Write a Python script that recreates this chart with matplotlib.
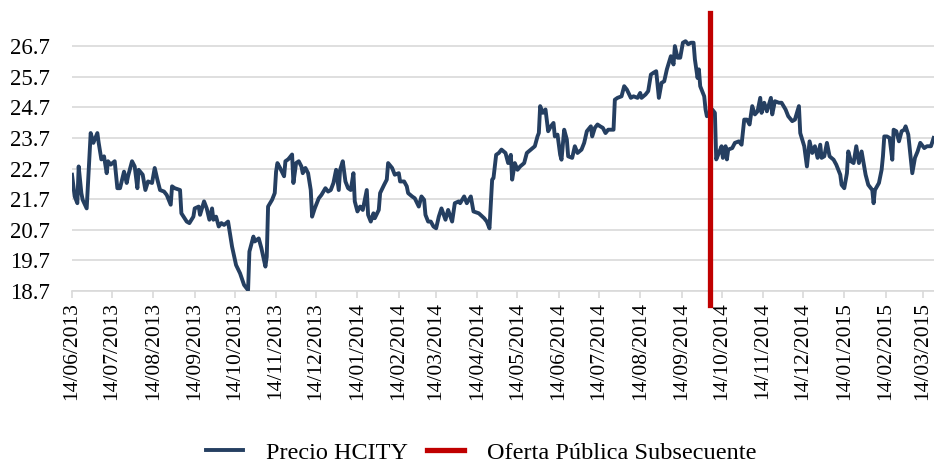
import matplotlib
matplotlib.use("Agg")
import matplotlib.pyplot as plt
import matplotlib.dates as mdates
import pandas as pd

# ---- data ----
start_date = "2013-06-14"
day_offsets = [0, 2, 4, 5, 7, 8, 11, 14, 16, 19, 20, 22, 24, 26, 27, 29, 32, 34, 36, 39,
               41, 42, 45, 47, 49, 50, 53, 55, 57, 60, 62, 64, 66, 69, 71, 74, 75, 77, 81, 82,
               86, 88, 91, 92, 95, 96, 99, 101, 103, 105, 106, 108, 110, 112, 114, 117, 120, 123, 126, 129,
               132, 133, 136, 137, 140, 142, 145, 146, 147, 150, 152, 153, 154, 156, 159, 160, 162, 163, 165, 166,
               168, 170, 172, 173, 175, 177, 179, 180, 182, 185, 187, 190, 192, 194, 196, 198, 200, 201, 203, 205,
               207, 209, 211, 212, 214, 216, 218, 221, 222, 224, 226, 227, 230, 231, 234, 236, 237, 240, 242, 245,
               246, 249, 251, 252, 255, 257, 260, 262, 264, 265, 267, 269, 271, 273, 275, 277, 280, 282, 285, 287,
               290, 291, 294, 296, 299, 301, 305, 309, 311, 313, 315, 316, 318, 320, 322, 325, 327, 329, 330, 332,
               334, 336, 339, 341, 344, 347, 349, 350, 351, 353, 355, 357, 359, 361, 362, 364, 366, 367, 369, 371,
               372, 375, 377, 379, 382, 384, 386, 389, 390, 392, 394, 396, 398, 400, 402, 406, 407, 409, 412, 414,
               416, 419, 421, 424, 426, 427, 430, 432, 434, 436, 438, 440, 442, 444, 446, 449, 451, 452, 454, 456,
               458, 460, 462, 464, 466, 467, 469, 470, 471, 474, 475, 476, 478, 480, 482, 483, 485, 487, 488, 490,
               491, 492, 495, 497, 500, 502, 504, 506, 508, 510, 512, 514, 516, 517, 519, 521, 524, 525, 527, 530,
               532, 535, 537, 540, 542, 545, 546, 549, 551, 553, 555, 557, 559, 561, 562, 564, 566, 568, 571, 573,
               576, 577, 579, 581, 582, 584, 586, 588, 590, 592, 595, 597, 600, 601, 602, 605, 607, 608, 609, 611,
               613, 615, 616, 618, 620, 622, 624, 625, 627, 630, 632, 634, 636, 639, 641, 644, 646]
precio_hcity = [22.50, 21.79, 21.57, 22.77, 21.90, 21.68, 21.40, 23.86, 23.54, 23.86, 23.54, 23.00, 23.10, 22.55, 22.94, 22.83, 22.94, 22.06, 22.06, 22.60,
                22.23, 22.45, 22.94, 22.77, 22.06, 22.66, 22.50, 22.00, 22.28, 22.23, 22.72, 22.34, 22.00, 21.95, 21.84, 21.52, 22.12, 22.06, 22.00, 21.24,
                20.97, 20.92, 21.13, 21.40, 21.46, 21.19, 21.63, 21.40, 21.03, 21.40, 21.03, 21.13, 20.81, 20.92, 20.86, 20.97, 20.15, 19.55, 19.28, 18.90,
                18.73, 19.99, 20.48, 20.32, 20.42, 20.10, 19.50, 19.82, 21.46, 21.68, 21.90, 22.60, 22.88, 22.72, 22.45, 22.94, 23.00, 23.05, 23.16, 22.23,
                22.88, 22.94, 22.77, 22.55, 22.72, 22.55, 22.00, 21.13, 21.40, 21.73, 21.84, 22.06, 21.95, 22.00, 22.23, 22.66, 22.00, 22.66, 22.94, 22.28,
                22.06, 22.00, 22.55, 21.63, 21.30, 21.46, 21.35, 22.00, 21.19, 20.97, 21.24, 21.08, 21.35, 21.90, 22.17, 22.34, 22.88, 22.72, 22.50, 22.55,
                22.28, 22.28, 22.12, 21.90, 21.79, 21.73, 21.46, 21.79, 21.68, 21.19, 20.97, 20.97, 20.81, 20.75, 21.13, 21.40, 21.03, 21.35, 20.97, 21.57,
                21.63, 21.57, 21.79, 21.57, 21.79, 21.30, 21.24, 21.08, 20.97, 20.75, 22.34, 22.39, 23.15, 23.21, 23.32, 23.21, 22.88, 23.15, 22.34, 22.88,
                22.66, 22.77, 22.88, 23.21, 23.32, 23.43, 23.75, 23.86, 24.74, 24.52, 24.63, 23.92, 24.08, 24.19, 23.75, 23.81, 23.15, 22.99, 23.97, 23.65,
                23.10, 23.05, 23.43, 23.21, 23.32, 23.54, 23.92, 24.08, 23.75, 24.03, 24.14, 24.08, 24.03, 23.86, 23.97, 23.97, 24.95, 25.01, 25.06, 25.39,
                25.28, 25.01, 25.06, 25.01, 25.17, 25.01, 25.12, 25.23, 25.77, 25.83, 25.88, 25.01, 25.50, 25.55, 25.94, 26.37, 26.10, 26.70, 26.32, 26.32,
                26.81, 26.86, 26.76, 26.81, 26.81, 26.27, 25.66, 25.94, 25.39, 25.06, 24.63, 24.41, 24.47, 24.63, 24.52, 23.00, 23.21, 23.43, 23.05, 23.43,
                23.00, 23.32, 23.37, 23.54, 23.59, 23.48, 24.30, 24.30, 24.14, 24.74, 24.47, 24.57, 25.01, 24.52, 24.85, 24.57, 25.01, 24.47, 24.90, 24.85,
                24.85, 24.63, 24.41, 24.25, 24.30, 24.74, 23.86, 23.43, 22.77, 23.59, 23.21, 23.43, 23.05, 23.48, 23.05, 23.10, 23.54, 23.10, 22.99, 22.83,
                22.50, 22.17, 22.06, 22.55, 23.26, 22.94, 22.88, 23.43, 22.88, 23.26, 22.50, 22.17, 22.00, 21.57, 22.00, 22.23, 22.66, 23.10, 23.75, 23.75,
                23.70, 22.99, 23.97, 23.92, 23.59, 23.92, 23.97, 24.08, 23.81, 22.55, 23.05, 23.26, 23.54, 23.37, 23.43, 23.43, 23.70]
oferta_date = "2014-10-05"
y_ticks = [18.7, 19.7, 20.7, 21.7, 22.7, 23.7, 24.7, 25.7, 26.7]
series_labels = ["Precio HCITY", "Oferta Pública Subsecuente"]

# ---- figure ----
plt.rcParams['font.family'] = ['Liberation Serif', 'DejaVu Serif']
fig = plt.figure(figsize=(9.34, 4.65), dpi=100)
ax = fig.add_axes([0.0771, 0.374, 0.9225, 0.598])

dates = pd.to_datetime(start_date) + pd.to_timedelta(day_offsets, unit="D")
navy = "#253f61"
red = "#c00000"
ax.plot(dates, precio_hcity, color=navy, lw=2.8, solid_joinstyle="round",
        label=series_labels[0], zorder=3)

ymin, ymax = 18.7, 27.78
od = pd.to_datetime(oferta_date)
ax.plot([od, od], [18.24, ymax], color=red, lw=3.8, clip_on=False,
        label=series_labels[1], zorder=4)

ax.set_ylim(ymin, ymax)
ax.set_xlim(pd.to_datetime(start_date), pd.to_datetime(start_date) + pd.Timedelta(days=646))
ax.set_yticks(y_ticks)
ax.set_yticklabels([f"{v:.1f}" for v in y_ticks])

month_ticks = [pd.to_datetime(start_date) + pd.DateOffset(months=i) for i in range(22)]
ax.set_xticks(month_ticks)
ax.xaxis.set_major_formatter(mdates.DateFormatter("%d/%m/%Y"))
for lbl in ax.get_xticklabels():
    lbl.set_rotation(90)

ax.grid(axis="y", color="#d9d9d9", lw=1.2)
ax.set_axisbelow(True)
for s in ["top", "right", "left"]:
    ax.spines[s].set_visible(False)
ax.spines["bottom"].set_color("#d9d9d9")
ax.spines["bottom"].set_linewidth(1.2)
ax.tick_params(axis="y", length=0, pad=16, labelsize=16.5, labelcolor="#000000")
ax.tick_params(axis="x", length=5, color="#d9d9d9", width=1.2, pad=3, labelsize=15.5)

fig.legend(loc="lower center", bbox_to_anchor=(0.5155, -0.044), ncol=2, frameon=False,
           fontsize=17.5, handlelength=1.5, columnspacing=0.8, handletextpad=0.95)

fig.savefig("out.png", dpi=100)
